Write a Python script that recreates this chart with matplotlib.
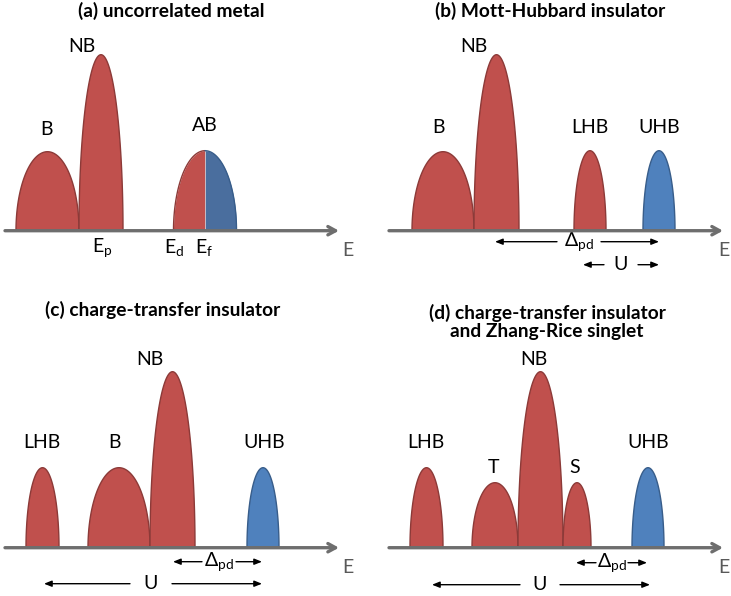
import numpy as np
import matplotlib.pyplot as plt

plt.rcParams['font.family'] = ['Lato', 'DejaVu Sans']
plt.rcParams['mathtext.fontset'] = 'custom'
plt.rcParams['mathtext.rm'] = 'Lato'
plt.rcParams['mathtext.it'] = 'Lato:italic'

RED, RED_EDGE = '#C0504D', '#8C3A38'
BLUE, BLUE_EDGE = '#4F81BD', '#385D8A'
BLUE_DARK = '#4A6E9E'
AXIS_GRAY = '#6E6E6E'

# --- band data per panel: (label, center, half width, height, kind) ---
# kind: 'r' filled (red), 'b' empty (blue), 'rb' half filled
bands_a = [('B', 47.5, 31.5, 79, 'r'), ('NB', 101, 22, 176, 'r'),
           ('AB', 205, 31.5, 80, 'rb')]
bands_b = [('B', 77, 31, 79, 'r'), ('NB', 130.5, 22.5, 176, 'r'),
           ('LHB', 224, 16, 80, 'r'), ('UHB', 293, 16, 80, 'b')]
bands_c = [('LHB', 42.5, 16.5, 80, 'r'), ('B', 119, 31, 80, 'r'),
           ('NB', 172.5, 22.5, 176, 'r'), ('UHB', 263, 16, 80, 'b')]
bands_d = [('LHB', 60.5, 16.5, 80, 'r'), ('T', 129, 23, 65, 'r'),
           ('NB', 174.5, 22.5, 176, 'r'), ('S', 211, 14, 65, 'r'),
           ('UHB', 282, 16, 80, 'b')]

# band label positions (x, y)
labels_a = [(46, 101), (82, 184), (205, 105)]
labels_b = [(73, 103), (108, 184), (224, 103), (293, 103)]
labels_c = [(42, 105), (114, 105), (150, 188), (264, 105)]
labels_d = [(60, 105), (128, 80), (168, 188), (209, 80), (282, 105)]

# energy markers under the axis in panel (a)
marks_a = [(r'E$_\mathrm{p}$', 102), (r'E$_\mathrm{d}$', 174), (r'E$_\mathrm{f}$', 204)]

# double arrows: (left tip, right tip, y, label, label x, gap half width)
arrows_b = [(129, 293, -11, r'$\Delta_{\mathrm{pd}}$', 213, 22),
            (217, 293, -34, 'U', 255, 17)]
arrows_c = [(173, 262, -14, r'$\Delta_{\mathrm{pd}}$', 219, 17),
            (44, 262, -36, 'U', 151, 21)]
arrows_d = [(210, 281, -15, r'$\Delta_{\mathrm{pd}}$', 246, 16),
            (66, 284, -37, 'U', 174, 20)]

titles = ['(a) uncorrelated metal', '(b) Mott-Hubbard insulator',
          '(c) charge-transfer insulator',
          '(d) charge-transfer insulator\nand Zhang-Rice singlet']
title_pos = [(171, 220), (184, 220), (163, 238), (181, 226)]

W, H = 731, 596
fig = plt.figure(figsize=(W / 100, H / 100), dpi=100)


def make_axes(x0, y0, w, h, base):
    """Axes in pixel units, y measured upward from the energy axis."""
    ax = fig.add_axes([x0 / W, 1 - (y0 + h) / H, w / W, h / H])
    ax.set_xlim(0, w)
    ax.set_ylim(base - (y0 + h), base - y0)
    ax.axis('off')
    return ax


def draw_band(ax, c, hw, h, kind):
    t = np.linspace(0, np.pi, 200)
    x = c + hw * np.cos(t)
    y = h * np.sin(t)
    if kind == 'rb':
        left = x <= c
        ax.fill_between(x[left], 0, y[left], color=RED, lw=0, zorder=2)
        ax.fill_between(x[~left], 0, y[~left], color=BLUE_DARK, lw=0, zorder=2)
        ax.plot(x[left], y[left], color=RED_EDGE, lw=1, zorder=3)
        ax.plot(x[~left], y[~left], color=BLUE_EDGE, lw=1, zorder=3)
        return
    fc, ec = (RED, RED_EDGE) if kind == 'r' else (BLUE, BLUE_EDGE)
    ax.fill(np.r_[x, x[0]], np.r_[y, 0], facecolor=fc, edgecolor=ec,
            lw=1, zorder=2)


def draw_energy_axis(ax, x0, x1, ex):
    ax.annotate('', xy=(x1, 0), xytext=(x0, 0),
                arrowprops=dict(arrowstyle='->,head_length=0.55,head_width=0.3',
                                color=AXIS_GRAY, lw=2.4, shrinkA=0, shrinkB=0),
                zorder=4)
    ax.text(ex, -20, 'E', fontsize=14, color='#595959',
            ha='right', va='center')


def draw_double_arrow(ax, left, right, y, label, lx, gap):
    kw = dict(arrowstyle='-|>,head_length=0.45,head_width=0.18',
              color='black', lw=1, shrinkA=0, shrinkB=0)
    ax.annotate('', xy=(left, y), xytext=(lx - gap, y), arrowprops=kw)
    ax.annotate('', xy=(right, y), xytext=(lx + gap, y), arrowprops=kw)
    ax.text(lx, y, label, fontsize=14, ha='center', va='center')


panels = [
    (0, 0, 366, 290, 230.7, bands_a, labels_a, [], 5, 339, 353),
    (366, 0, 365, 290, 230.7, bands_b, labels_b, arrows_b, 23, 357, 364),
    (0, 290, 366, 306, 547.7, bands_c, labels_c, arrows_c, 5, 339, 353),
    (366, 290, 365, 306, 547.7, bands_d, labels_d, arrows_d, 23, 357, 364),
]

for i, (x0, y0, w, h, base, bands, labs, arrows, ax0, ax1, ex) in enumerate(panels):
    ax = make_axes(x0, y0, w, h, base)
    for (name, c, hw, hh, kind), (lx, ly) in zip(bands, labs):
        draw_band(ax, c, hw, hh, kind)
        ax.text(lx, ly, name, fontsize=14, ha='center', va='center')
    draw_energy_axis(ax, ax0, ax1, ex)
    for a in arrows:
        draw_double_arrow(ax, *a)
    tx, ty = title_pos[i]
    ax.text(tx, ty, titles[i], fontsize=13.8, fontweight='bold',
            ha='center', va='center', linespacing=1.1)
    if i == 0:
        for txt, mx in marks_a:
            ax.text(mx, -17, txt, fontsize=14, ha='center', va='center')

fig.savefig('out.png', dpi=100)
